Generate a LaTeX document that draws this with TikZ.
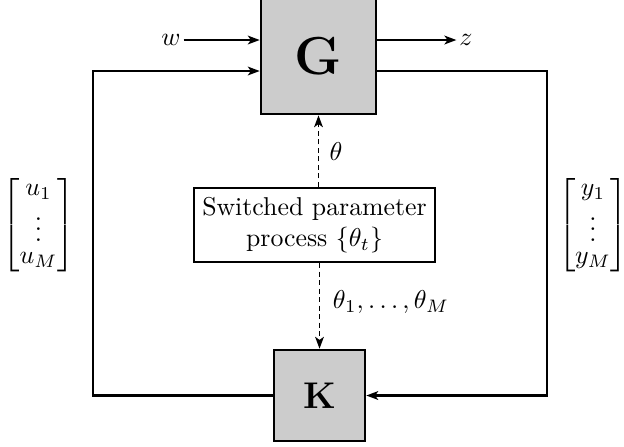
\documentclass[tikz,border=0pt]{standalone}
\usepackage{amsmath}
\usetikzlibrary{arrows.meta}
\begin{document}
\begin{tikzpicture}[x=0.3876pt,y=-0.3876pt,
  conn/.style={line width=0.8pt,-{Stealth[length=4.6pt,width=3.4pt,inset=1.2pt]}},
  dconn/.style={line width=0.6pt,dash pattern=on 2pt off 1.3pt,-{Stealth[length=4.6pt,width=3.4pt,inset=1.2pt]}},
  plant/.style={draw,line width=1pt,fill=gray!40,minimum width=44.6pt,minimum height=44.6pt,inner sep=0pt},
  ctrl/.style={draw,line width=1pt,fill=gray!40,minimum width=35.3pt,minimum height=35.3pt,inner sep=0pt},
  sbox/.style={draw,line width=0.8pt,fill=white,minimum width=93.4pt,minimum height=28.7pt,align=center,inner sep=2pt},
  lbl/.style={inner sep=1pt},
  vec/.style={inner sep=0pt,execute at begin node={\renewcommand{\arraystretch}{0.72}}}]
\path[use as bounding box] (0,0) rectangle (624,446);
\node[plant] (G) at (318.5,56.5) {\fontsize{21.5}{24}\selectfont$\mathbf{G}$};
\node[ctrl] (K) at (319.5,395.5) {\Large$\mathbf{K}$};
\node[sbox] (S) at (314.5,225) {Switched parameter\\process $\{\theta_t\}$};
\node[lbl] (w) at (171,40) {$w$};
\node[lbl] (z) at (466,40) {$z$};
\node[lbl] (th) at (336,152) {$\theta$};
\node[lbl] (thm) at (391,302) {$\theta_1,\ldots,\theta_M$};
\node[vec] (u) at (38.5,225) {$\begin{bmatrix}u_1\\ \vdots\\ u_M\end{bmatrix}$};
\node[vec] (y) at (593,225) {$\begin{bmatrix}y_1\\ \vdots\\ y_M\end{bmatrix}$};
\coordinate (lt) at (93,71);
\coordinate (lb) at (93,395.5);
\coordinate (rt) at (547,71);
\coordinate (rb) at (547,395.5);
\draw[conn] (w) -- (w -| G.west);
\draw[conn] (z -| G.east) -- (z);
\draw[conn] (K.west) -- (lb) -- (lt) -- (lt -| G.west);
\draw[conn] (rt -| G.east) -- (rt) -- (rb) -- (K.east);
\draw[dconn] (S.north -| G.south) -- (G.south);
\draw[dconn] (S.south -| K.north) -- (K.north);
\end{tikzpicture}
\end{document}
